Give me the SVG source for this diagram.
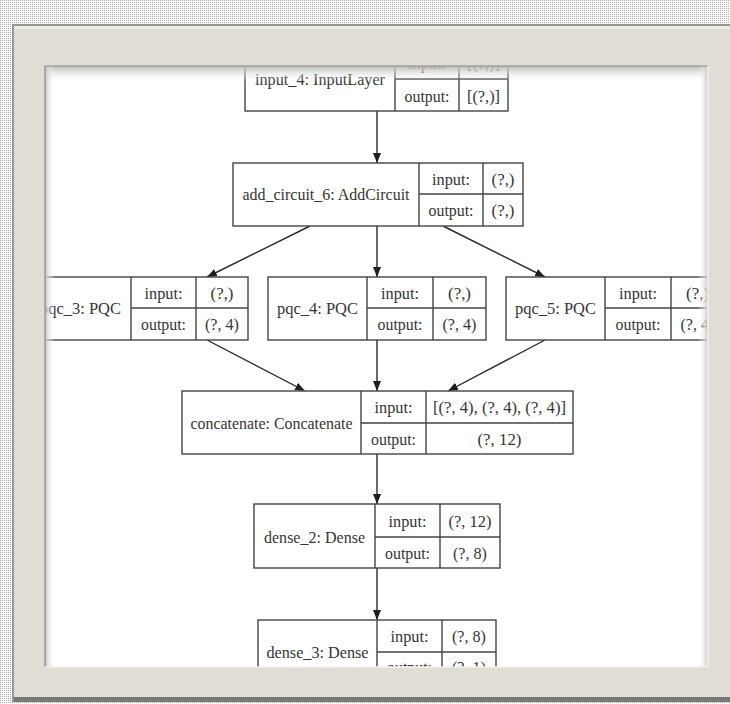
<svg xmlns="http://www.w3.org/2000/svg" width="730" height="704" viewBox="0 0 730 704">
<defs>
<pattern id="chk" width="2" height="2" patternUnits="userSpaceOnUse"><rect width="2" height="2" fill="#ffffff"/><rect width="1" height="1" fill="#a8a8a8"/></pattern>
<linearGradient id="gTop" x1="0" y1="0" x2="0" y2="1"><stop offset="0" stop-color="#b9b9b6"/><stop offset="1" stop-color="#ffffff" stop-opacity="0"/></linearGradient>
<linearGradient id="gLeft" x1="0" y1="0" x2="1" y2="0"><stop offset="0" stop-color="#c4c4c0"/><stop offset="1" stop-color="#ffffff" stop-opacity="0"/></linearGradient>
<linearGradient id="gRight" x1="1" y1="0" x2="0" y2="0"><stop offset="0" stop-color="#c9c9c6"/><stop offset="1" stop-color="#ffffff" stop-opacity="0"/></linearGradient>
<clipPath id="win"><rect x="45" y="66" width="663" height="601"/></clipPath>
<marker id="arr" viewBox="0 0 10 8" refX="10" refY="4" markerWidth="10" markerHeight="8" markerUnits="userSpaceOnUse" orient="auto"><path d="M0,0 L10,4 L0,8 z" fill="#1e1e1e"/></marker>
</defs>
<style>
.box{fill:#ffffff;stroke:#454545;stroke-width:1.4}
.ln{stroke:#454545;stroke-width:1.4;fill:none}
.t{font-family:"Liberation Serif","Times New Roman",serif;font-size:17.5px;fill:#353535;text-anchor:middle}
.edge{stroke:#2a2a2a;stroke-width:1.4;fill:none;marker-end:url(#arr)}
</style>
<rect x="0" y="0" width="730" height="704" fill="url(#chk)"/>
<rect x="12" y="24" width="718" height="678" fill="#9a9893"/>
<rect x="14" y="26" width="716" height="674" fill="#e0ddd5"/>
<rect x="14" y="697" width="716" height="5" fill="#7a7874"/>
<rect x="14" y="26" width="716" height="3" fill="#eeece6"/>
<rect x="45" y="66" width="663" height="601" fill="#ffffff"/>
<g clip-path="url(#win)">
<g id="connectors">
<line class="edge" x1="377" y1="111" x2="377" y2="163"/>
<line class="edge" x1="310" y1="226" x2="207" y2="277"/>
<line class="edge" x1="377" y1="226" x2="377" y2="277"/>
<line class="edge" x1="443" y1="226" x2="545" y2="277"/>
<line class="edge" x1="207" y1="340" x2="305" y2="391"/>
<line class="edge" x1="377" y1="340" x2="377" y2="391"/>
<line class="edge" x1="545" y1="340" x2="448" y2="391"/>
<line class="edge" x1="377" y1="454" x2="377" y2="504"/>
<line class="edge" x1="377" y1="568" x2="377" y2="620"/>
</g>
<g id="input_4">
<rect class="box" x="245" y="47" width="263" height="64"/>
<path class="ln" d="M395,47V111M459,47V111M395,79H508"/>
<text class="t" x="320" y="85" textLength="130" lengthAdjust="spacingAndGlyphs">input_4: InputLayer</text>
<text class="t" x="427" y="69" textLength="38" lengthAdjust="spacingAndGlyphs">input:</text>
<text class="t" x="483.5" y="69" textLength="33" lengthAdjust="spacingAndGlyphs">[(?,)]</text>
<text class="t" x="427" y="102" textLength="45" lengthAdjust="spacingAndGlyphs">output:</text>
<text class="t" x="483.5" y="102" textLength="33" lengthAdjust="spacingAndGlyphs">[(?,)]</text>
</g>
<g id="add_circuit_6">
<rect class="box" x="233" y="163" width="290" height="63"/>
<path class="ln" d="M419,163V226M483,163V226M419,194H523"/>
<text class="t" x="326" y="200" textLength="167" lengthAdjust="spacingAndGlyphs">add_circuit_6: AddCircuit</text>
<text class="t" x="451" y="185" textLength="38" lengthAdjust="spacingAndGlyphs">input:</text>
<text class="t" x="503" y="185" textLength="23" lengthAdjust="spacingAndGlyphs">(?,)</text>
<text class="t" x="451" y="216" textLength="45" lengthAdjust="spacingAndGlyphs">output:</text>
<text class="t" x="503" y="216" textLength="23" lengthAdjust="spacingAndGlyphs">(?,)</text>
</g>
<g id="pqc_3">
<rect class="box" x="30" y="277" width="218" height="63"/>
<path class="ln" d="M131,277V340M196,277V340M131,308H248"/>
<text class="t" x="80.5" y="314" textLength="81" lengthAdjust="spacingAndGlyphs">pqc_3: PQC</text>
<text class="t" x="163.5" y="299" textLength="38" lengthAdjust="spacingAndGlyphs">input:</text>
<text class="t" x="222" y="299" textLength="23" lengthAdjust="spacingAndGlyphs">(?,)</text>
<text class="t" x="163.5" y="330" textLength="45" lengthAdjust="spacingAndGlyphs">output:</text>
<text class="t" x="222" y="330" textLength="34" lengthAdjust="spacingAndGlyphs">(?, 4)</text>
</g>
<g id="pqc_4">
<rect class="box" x="268" y="277" width="218" height="63"/>
<path class="ln" d="M367,277V340M433,277V340M367,308H486"/>
<text class="t" x="317.5" y="314" textLength="81" lengthAdjust="spacingAndGlyphs">pqc_4: PQC</text>
<text class="t" x="400" y="299" textLength="38" lengthAdjust="spacingAndGlyphs">input:</text>
<text class="t" x="459.5" y="299" textLength="23" lengthAdjust="spacingAndGlyphs">(?,)</text>
<text class="t" x="400" y="330" textLength="45" lengthAdjust="spacingAndGlyphs">output:</text>
<text class="t" x="459.5" y="330" textLength="34" lengthAdjust="spacingAndGlyphs">(?, 4)</text>
</g>
<g id="pqc_5">
<rect class="box" x="506" y="277" width="218" height="63"/>
<path class="ln" d="M605,277V340M671,277V340M605,308H724"/>
<text class="t" x="555.5" y="314" textLength="81" lengthAdjust="spacingAndGlyphs">pqc_5: PQC</text>
<text class="t" x="638" y="299" textLength="38" lengthAdjust="spacingAndGlyphs">input:</text>
<text class="t" x="697.5" y="299" textLength="23" lengthAdjust="spacingAndGlyphs">(?,)</text>
<text class="t" x="638" y="330" textLength="45" lengthAdjust="spacingAndGlyphs">output:</text>
<text class="t" x="697.5" y="330" textLength="34" lengthAdjust="spacingAndGlyphs">(?, 4)</text>
</g>
<g id="concatenate">
<rect class="box" x="182" y="391" width="391" height="63"/>
<path class="ln" d="M361,391V454M426,391V454M361,423H573"/>
<text class="t" x="271.5" y="429" textLength="162" lengthAdjust="spacingAndGlyphs">concatenate: Concatenate</text>
<text class="t" x="393.5" y="413" textLength="38" lengthAdjust="spacingAndGlyphs">input:</text>
<text class="t" x="499.5" y="413" textLength="133" lengthAdjust="spacingAndGlyphs">[(?, 4), (?, 4), (?, 4)]</text>
<text class="t" x="393.5" y="445" textLength="45" lengthAdjust="spacingAndGlyphs">output:</text>
<text class="t" x="499.5" y="445" textLength="44" lengthAdjust="spacingAndGlyphs">(?, 12)</text>
</g>
<g id="dense_2">
<rect class="box" x="254" y="504" width="246" height="64"/>
<path class="ln" d="M375,504V568M440,504V568M375,537H500"/>
<text class="t" x="314.5" y="543" textLength="101" lengthAdjust="spacingAndGlyphs">dense_2: Dense</text>
<text class="t" x="407.5" y="527" textLength="38" lengthAdjust="spacingAndGlyphs">input:</text>
<text class="t" x="470" y="527" textLength="43" lengthAdjust="spacingAndGlyphs">(?, 12)</text>
<text class="t" x="407.5" y="559" textLength="45" lengthAdjust="spacingAndGlyphs">output:</text>
<text class="t" x="470" y="559" textLength="34" lengthAdjust="spacingAndGlyphs">(?, 8)</text>
</g>
<g id="dense_3">
<rect class="box" x="258" y="620" width="238" height="64"/>
<path class="ln" d="M377,620V684M442,620V684M377,652H496"/>
<text class="t" x="317.5" y="658" textLength="102" lengthAdjust="spacingAndGlyphs">dense_3: Dense</text>
<text class="t" x="409.5" y="642" textLength="38" lengthAdjust="spacingAndGlyphs">input:</text>
<text class="t" x="469" y="642" textLength="34" lengthAdjust="spacingAndGlyphs">(?, 8)</text>
<text class="t" x="409.5" y="673" textLength="45" lengthAdjust="spacingAndGlyphs">output:</text>
<text class="t" x="469" y="673" textLength="34" lengthAdjust="spacingAndGlyphs">(?, 1)</text>
</g>
</g>
<rect x="45" y="66" width="663" height="16" fill="url(#gTop)"/>
<rect x="45" y="66" width="10" height="601" fill="url(#gLeft)"/>
<rect x="698" y="66" width="10" height="601" fill="url(#gRight)"/>
<path d="M45,667V66H708" fill="none" stroke="#8a8a86" stroke-width="1.2"/>
<path d="M708,66V667H45" fill="none" stroke="#f2f1ec" stroke-width="1.5"/>
</svg>
